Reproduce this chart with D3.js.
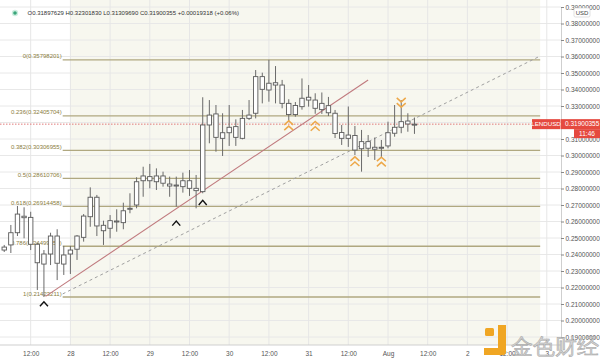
<!DOCTYPE html>
<html><head><meta charset="utf-8">
<script src="https://cdn.jsdelivr.net/npm/d3@7"></script>
<style>body{margin:0;background:#fff}svg{display:block}text{font-family:"Liberation Sans",Arial,sans-serif}</style>
</head><body><svg id="c" width="600" height="361"></svg>
<script>
// ---------- data ----------
const startTime = Date.UTC(2020,6,27,4);   // first 2h candle
const stepHours = 2;
const open  = [0.2427,0.2458,0.2532,0.2632,0.2625,0.2462,0.2342,0.2403,0.2512,0.2342,
               0.2403,0.2432,0.2504,0.2629,0.2747,0.2577,0.2559,0.2603,0.2593,0.2674,
               0.2700,0.2847,0.2872,0.2841,0.2876,0.2827,0.2818,0.2811,0.2847,0.2801,
               0.2781,0.3185,0.3252,0.3104,0.3138,0.3175,0.3104,0.3225,0.3256,0.3478,
               0.3397,0.3441,0.3427,0.3316,0.3248,0.3296,0.3336,0.3336,0.3278,0.3302,
               0.3256,0.3139,0.3104,0.3121,0.3041,0.3084,0.3050,0.3044,0.3058,0.3135,
               0.3171,0.3209,0.31897629];
const high  = [0.2458,0.2579,0.2694,0.2686,0.2659,0.2472,0.2427,0.2532,0.2553,0.2452,
               0.2452,0.2518,0.2645,0.2807,0.2761,0.2605,0.2639,0.2674,0.2714,0.2771,
               0.2868,0.2932,0.2949,0.2922,0.2902,0.2872,0.2872,0.2896,0.2912,0.2882,
               0.3353,0.3336,0.3306,0.3256,0.3306,0.3219,0.3276,0.3336,0.3518,0.3502,
               0.3580,0.3542,0.3458,0.3341,0.3324,0.3467,0.3427,0.3377,0.3382,0.3355,
               0.3276,0.3185,0.3297,0.3179,0.3155,0.3124,0.3109,0.3094,0.3205,0.3306,
               0.3336,0.3256,0.32301830];
const low   = [0.2415,0.2409,0.2512,0.2498,0.2427,0.2185,0.21423,0.2336,0.2245,0.2276,
               0.2282,0.2367,0.2478,0.2568,0.2512,0.2458,0.2498,0.2538,0.2553,0.2650,
               0.2680,0.2750,0.2801,0.2791,0.2811,0.2750,0.2690,0.2775,0.2755,0.2680,
               0.2771,0.3074,0.3023,0.2997,0.3058,0.3058,0.3098,0.3215,0.3225,0.3316,
               0.3326,0.3316,0.3286,0.3209,0.3235,0.3278,0.3296,0.3253,0.3252,0.3239,
               0.3106,0.3064,0.3052,0.3003,0.2902,0.2991,0.2973,0.2985,0.3044,0.3114,
               0.3135,0.3144,0.31309690];
const close = [0.2445,0.2532,0.2645,0.2623,0.2462,0.2350,0.2403,0.2512,0.2347,0.2397,
               0.2427,0.2512,0.2633,0.2747,0.2573,0.2544,0.2605,0.2597,0.2665,0.2680,
               0.2841,0.2876,0.2847,0.2876,0.2832,0.2815,0.2821,0.2847,0.2801,0.2787,
               0.3185,0.3245,0.3110,0.3138,0.3171,0.3110,0.3225,0.3245,0.3478,0.3401,
               0.3438,0.3427,0.3316,0.3248,0.3303,0.3347,0.3353,0.3286,0.3316,0.3259,
               0.3133,0.3104,0.3124,0.3033,0.3084,0.3044,0.3038,0.3050,0.3138,0.3171,
               0.3205,0.3191,0.31900355];

const fibRatios = ["0","0.236","0.382","0.5","0.618","0.786","1"];
const fibValues = [0.35798201,0.32405704,0.30306955,0.28610706,0.26914458,0.24499459,0.21423211];
const fibStart = Date.UTC(2020,6,27,21,40), fibEnd = Date.UTC(2020,7,2,22);

const yTickValues = [0.19,0.20,0.21,0.22,0.23,0.24,0.25,0.26,0.27,0.28,0.29,0.30,0.31,0.32,0.33,0.34,0.35,0.36,0.37,0.38,0.39];
const xTickTimes = [Date.UTC(2020,6,27,12),Date.UTC(2020,6,28),Date.UTC(2020,6,28,12),Date.UTC(2020,6,29),
  Date.UTC(2020,6,29,12),Date.UTC(2020,6,30),Date.UTC(2020,6,30,12),Date.UTC(2020,6,31),Date.UTC(2020,6,31,12),
  Date.UTC(2020,7,1),Date.UTC(2020,7,1,12),Date.UTC(2020,7,2),Date.UTC(2020,7,2,12),Date.UTC(2020,7,3)];
const xTickLabels = ["12:00","28","12:00","29","12:00","30","12:00","31","12:00","Aug","12:00","2","12:00","3"];

// trend lines: [time, price]
const trendRed  = [[Date.UTC(2020,6,27,16,30),0.2146],[Date.UTC(2020,6,31,18),0.3458]];
const trendGray = [[Date.UTC(2020,6,27,21,40),0.2161],[Date.UTC(2020,7,2,22),0.3603]];

// markers: candle index, price, type
const markerIdx   = [6,26,30,43,47,53,57,60];
const markerPrice = [0.2100,0.2589,0.2714,0.3182,0.3178,0.2964,0.2962,0.3321];
const markerType  = ["up1","up1","up1","up2","up2","up2","up2","down2"];

const lastPrice = 0.31900355;
const legendText = "O0.31897629 H0.32301830 L0.31309690 C0.31900355 +0.00019318 (+0.06%)";

// ---------- drawing ----------
const svg = d3.select("#c");
const x = d3.scaleUtc().domain([Date.UTC(2020,6,27,12), Date.UTC(2020,7,2,12)]).range([30.7, 507.1]);
const y = d3.scaleLinear().domain([0.19,0.39]).range([337,7]);
const tOf = i => startTime + i*stepHours*3600e3;
const plotR = 561, plotB = 345;

// band background
svg.append("rect").attr("x", x(Date.UTC(2020,6,28))).attr("y",0)
  .attr("width", x(fibEnd)-x(Date.UTC(2020,6,28))).attr("height", plotB)
  .attr("fill","#f7f7ef");

// grid
svg.append("g").selectAll("line").data(yTickValues).join("line")
  .attr("x1",0).attr("x2",plotR).attr("y1",d=>y(d)).attr("y2",d=>y(d))
  .attr("stroke","#e8e8e8").attr("stroke-width",1);
svg.append("g").selectAll("line").data(xTickTimes).join("line")
  .attr("x1",d=>x(d)).attr("x2",d=>x(d)).attr("y1",0).attr("y2",plotB)
  .attr("stroke","#e6e6e6").attr("stroke-width",1);

// fib levels
const fg = svg.append("g");
fibValues.forEach((v,i)=>{
  fg.append("line").attr("x1",x(fibStart)).attr("x2",x(fibEnd)).attr("y1",y(v)).attr("y2",y(v))
    .attr("stroke","#b0a880").attr("stroke-width",1.3);
  fg.append("text").attr("x",x(fibStart)-1).attr("y",y(v)-1.5).attr("text-anchor","end")
    .attr("font-size",6).attr("fill","#8a7d3e").text(fibRatios[i]+"("+v.toFixed(8)+")");
});

// price line
svg.append("line").attr("x1",0).attr("x2",532).attr("y1",y(lastPrice)).attr("y2",y(lastPrice))
  .attr("stroke","#e07a7a").attr("stroke-width",1).attr("stroke-dasharray","1.5,1.5");

// trend lines
svg.append("line").attr("x1",x(trendGray[0][0])).attr("y1",y(trendGray[0][1]))
  .attr("x2",x(trendGray[1][0])).attr("y2",y(trendGray[1][1]))
  .attr("stroke","#a0a0a0").attr("stroke-width",1).attr("stroke-dasharray","3,3");
svg.append("line").attr("x1",x(trendRed[0][0])).attr("y1",y(trendRed[0][1]))
  .attr("x2",x(trendRed[1][0])).attr("y2",y(trendRed[1][1]))
  .attr("stroke","#c07a7e").attr("stroke-width",1.1);

// candles
const idx = d3.range(open.length);
const cg = svg.append("g");
cg.selectAll("line").data(idx).join("line")
  .attr("x1",i=>x(tOf(i))).attr("x2",i=>x(tOf(i)))
  .attr("y1",i=>y(high[i])).attr("y2",i=>y(low[i]))
  .attr("stroke","#6a6a6a").attr("stroke-width",1);
const bw = 4.4;
cg.selectAll("rect").data(idx).join("rect")
  .attr("x",i=>x(tOf(i))-bw/2).attr("width",bw)
  .attr("y",i=>y(Math.max(open[i],close[i])))
  .attr("height",i=>Math.max(1,Math.abs(y(open[i])-y(close[i]))))
  .attr("fill","#ffffff").attr("stroke","#5a5a5a").attr("stroke-width",0.9);

// markers
const mg = svg.append("g").attr("fill","none");
markerIdx.forEach((ci,k)=>{
  const cx = x(tOf(ci)), cy = y(markerPrice[k]), t = markerType[k];
  if (t==="up1") {
    mg.append("path").attr("d",`M${cx-4},${cy+2.3}L${cx},${cy-2.3}L${cx+4},${cy+2.3}`)
      .attr("stroke","#111").attr("stroke-width",1.4);
  } else {
    const s = t==="up2" ? 1 : -1;
    [-2.6,2.6].forEach(o=>{
      mg.append("path").attr("d",`M${cx-4.5},${cy+o+s*2}L${cx},${cy+o-s*2}L${cx+4.5},${cy+o+s*2}`)
        .attr("stroke","#eda84a").attr("stroke-width",1.5);
    });
  }
});

// axes
const ya = svg.append("g").attr("transform",`translate(${plotR},0)`)
  .call(d3.axisRight(y).tickValues(yTickValues).tickFormat(d3.format(".8f")).tickSize(3).tickPadding(1.5));
ya.select(".domain").attr("stroke","#cfcfcf");
ya.selectAll(".tick line").attr("stroke","#888");
ya.selectAll("text").attr("font-size",6.5).attr("fill","#555").attr("font-family","Liberation Sans, Arial, sans-serif");

const xa = svg.append("g").attr("transform",`translate(0,${plotB})`)
  .call(d3.axisBottom(x).tickValues(xTickTimes).tickFormat((d,i)=>xTickLabels[i]).tickSize(0).tickPadding(6));
xa.select(".domain").attr("stroke","#cfcfcf").attr("d",`M0,0H${plotR}`);
xa.selectAll("text").attr("font-size",6.5).attr("fill","#555").attr("font-family","Liberation Sans, Arial, sans-serif");

// USD box
svg.append("rect").attr("x",574).attr("y",8).attr("width",16).attr("height",9).attr("rx",1.5)
  .attr("fill","#fff").attr("stroke","#ccc").attr("stroke-width",0.6);
svg.append("text").attr("x",582).attr("y",14.8).attr("text-anchor","middle").attr("font-size",6)
  .attr("fill","#444").text("USD");

// last price labels
const red = "#e5493f";
const py = y(lastPrice);
svg.append("rect").attr("x",532).attr("y",py-5).attr("width",28.5).attr("height",10).attr("fill",red);
svg.append("text").attr("x",546).attr("y",py+2.3).attr("text-anchor","middle").attr("font-size",6.2)
  .attr("fill","#fff").text("LENDUSD");
svg.append("rect").attr("x",561).attr("y",py-5).attr("width",39).attr("height",10).attr("fill",red);
svg.append("text").attr("x",565).attr("y",py+2.3).attr("font-size",6.5).attr("fill","#fff")
  .text(lastPrice.toFixed(8));
svg.append("rect").attr("x",574).attr("y",py+5).attr("width",26).attr("height",9).attr("fill",red);
svg.append("text").attr("x",587).attr("y",py+11.8).attr("text-anchor","middle").attr("font-size",6.5)
  .attr("fill","#fff").text("11:46");

// legend
svg.append("circle").attr("cx",15).attr("cy",13).attr("r",3.2).attr("fill","#cdeee0");
svg.append("circle").attr("cx",15).attr("cy",13).attr("r",1.8).attr("fill","#3aa57a");
svg.append("text").attr("x",27.5).attr("y",15.2).attr("font-size",6).attr("fill","#333").text(legendText);

// watermark
const wm = svg.append("g");
wm.append("rect").attr("x",485).attr("y",328).attr("width",9).attr("height",8).attr("rx",1.5).attr("fill","#f0a623");
wm.append("path").attr("d","M498,325h8v27a3,3 0 0 1 -3,3h-19v-7h14z").attr("fill","#f0a623");
wm.append("text").attr("x",511).attr("y",354).attr("font-size",22)
  .attr("font-family","Noto Sans CJK SC, sans-serif").attr("fill","#cfcfcf")
  .attr("stroke","#9a9a9a").attr("stroke-width",0.5).attr("opacity",0.9).text("金色财经");
</script></body></html>
